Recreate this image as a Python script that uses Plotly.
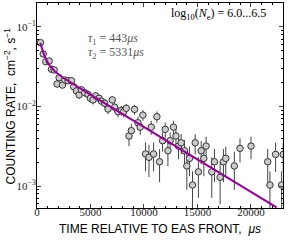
import plotly.graph_objects as go
import numpy as np

# Measured points (time in microseconds, counting rate, error)
time_us = [325, 578, 820, 1138, 1353, 1600, 1880, 2070, 2380, 2600, 2900, 3220,
           3430, 3690, 3940, 4150, 4460, 4770, 4990, 5240, 5490, 5800, 6020, 6330,
           6640, 7040, 7260, 7570, 7880, 8100, 8350, 8600, 8820, 9120, 9440, 9650,
           9900, 10150, 10470, 10680, 10900, 11210, 11460, 11740, 11990, 12240, 12450,
           12760, 12990, 13230, 13480, 13790, 14010, 14260, 14540, 14790, 15090, 15350,
           15600, 15810, 16340, 16590, 17120, 17430, 17650, 18450, 18980, 20010, 21570,
           21780, 22310, 22870, 23020]
rate = [0.0635, 0.0457, 0.0366, 0.0373, 0.0294, 0.0288, 0.0192, 0.0230, 0.0186, 0.0215,
        0.0211, 0.0211, 0.0177, 0.0157, 0.0140, 0.0162, 0.0149, 0.0142, 0.0127, 0.0121,
        0.0136, 0.0127, 0.0117, 0.0110, 0.0093, 0.0121, 0.0098, 0.0086, 0.0089, 0.0086,
        0.0095, 0.00426, 0.00497, 0.0092, 0.00625, 0.0055, 0.0078, 0.00253, 0.0023,
        0.0055, 0.00253, 0.00745, 0.00202, 0.00372, 0.00516, 0.00278, 0.00372, 0.0055,
        0.00426, 0.00318, 0.0035, 0.00278, 0.00179, 0.00223, 0.00103, 0.0035, 0.00151,
        0.00278, 0.00223, 0.00318, 0.00151, 0.00202, 0.00129, 0.00202, 0.00223, 0.00179,
        0.00298, 0.00318, 0.00202, 0.00103, 0.0025, 0.00103, 0.0025]
rate_err = [0.0030, 0.0026, 0.0023, 0.0023, 0.0021, 0.0021, 0.0019, 0.0019, 0.0018, 0.0018,
            0.0018, 0.0017, 0.0017, 0.0016, 0.0016, 0.0016, 0.0015, 0.0015, 0.0015, 0.0015,
            0.0015, 0.0014, 0.0014, 0.0014, 0.0013, 0.0014, 0.0013, 0.0013, 0.0013, 0.0013,
            0.0013, 0.0011, 0.0011, 0.0013, 0.0012, 0.0011, 0.0012, 0.0010, 0.0010,
            0.0011, 0.0010, 0.0012, 0.0009, 0.0010, 0.0011, 0.0010, 0.0010, 0.0011,
            0.0010, 0.0010, 0.0010, 0.0010, 0.0009, 0.0009, 0.0005, 0.0010, 0.0008,
            0.0009, 0.0009, 0.0010, 0.0008, 0.0009, 0.0007, 0.0009, 0.0009, 0.0009,
            0.0010, 0.0010, 0.0009, 0.0005, 0.0010, 0.0005, 0.0010]

# Two-exponential fit parameters
amp1, tau1 = 0.057, 443.0
amp2, tau2 = 0.036, 5331.0
fit_t = np.linspace(300, 22400, 300)
fit_rate = amp1 * np.exp(-fit_t / tau1) + amp2 * np.exp(-fit_t / tau2)

x_ticks = [0, 5000, 10000, 15000, 20000]
x_ticktext = ["0", "5000", "10000", "15000", "20000"]
y_ticks = [1e-3, 1e-2, 1e-1]
y_ticktext = ["10<sup>\u22123</sup>", "10<sup>\u22122</sup>", "10<sup>\u22121</sup>"]
y_minor = [m * 10.0 ** e for e in (-4, -3, -2, -1) for m in range(2, 10)]

serif = "Liberation Serif"
sans = "Liberation Sans"

fig = go.Figure()
fig.add_trace(go.Scatter(
    x=time_us, y=rate, mode="markers",
    error_y=dict(type="data", array=rate_err, color="#444444", thickness=1, width=0),
    marker=dict(size=6.5, color="#cccccc", line=dict(color="#333333", width=1)),
    showlegend=False, cliponaxis=True))
fig.add_trace(go.Scatter(
    x=fit_t, y=fit_rate, mode="lines",
    line=dict(color="#990099", width=2), showlegend=False))

fig.update_layout(
    width=293, height=241,
    margin=dict(l=37, r=10, t=3, b=33),
    paper_bgcolor="white", plot_bgcolor="white",
    xaxis=dict(range=[0, 23000], tickvals=x_ticks, ticktext=x_ticktext,
               ticks="inside", ticklen=4, automargin=False, ticklabelstandoff=-6,
               mirror="allticks", showline=True, linecolor="black", linewidth=1,
               showgrid=False, zeroline=False,
               tickfont=dict(family=serif, size=11, color="#222"),
               minor=dict(ticks="inside", ticklen=2, dtick=1000, tickcolor="black")),
    yaxis=dict(type="log", range=[np.log10(5.3e-4), np.log10(0.2)],
               tickvals=y_ticks, ticktext=y_ticktext, ticks="inside", ticklen=4,
               automargin=False, ticklabelstandoff=-2,
               mirror="allticks", showline=True, linecolor="black", linewidth=1,
               showgrid=False, zeroline=False,
               tickfont=dict(family=serif, size=11, color="#222"),
               minor=dict(ticks="inside", ticklen=2, tickvals=y_minor, tickcolor="black")),
)

fig.add_annotation(xref="paper", yref="paper", x=0.5, y=-0.1, xanchor="center", yanchor="middle",
                   text="TIME RELATIVE TO EAS FRONT,  <i>\u03bcs</i>", showarrow=False,
                   font=dict(family=sans, size=12, color="black"))
fig.add_annotation(xref="paper", yref="paper", x=-0.11, y=0.5, xanchor="center", yanchor="middle",
                   textangle=-90,
                   text="COUNTING RATE,  cm<sup>\u22122</sup>, s<sup>\u22121</sup>", showarrow=False,
                   font=dict(family=sans, size=12, color="black"))
fig.add_annotation(xref="paper", yref="paper", x=0.2, y=0.824, xanchor="left", yanchor="middle",
                   text="<i>\u03c4</i><sub>1</sub> = 443<i>\u03bcs</i>", showarrow=False,
                   font=dict(family=serif, size=12, color="#555"))
fig.add_annotation(xref="paper", yref="paper", x=0.2, y=0.756, xanchor="left", yanchor="middle",
                   text="<i>\u03c4</i><sub>2</sub> = 5331<i>\u03bcs</i>", showarrow=False,
                   font=dict(family=serif, size=12, color="#555"))
fig.add_annotation(xref="paper", yref="paper", x=0.94, y=0.945, xanchor="right", yanchor="middle",
                   text="log<sub>10</sub>(<i>N</i><sub>e</sub>) = 6.0...6.5", showarrow=False,
                   font=dict(family=serif, size=12, color="black"))

fig.write_html("out.html", config={"displayModeBar": False},
               post_script="document.body.style.margin='0px';")
